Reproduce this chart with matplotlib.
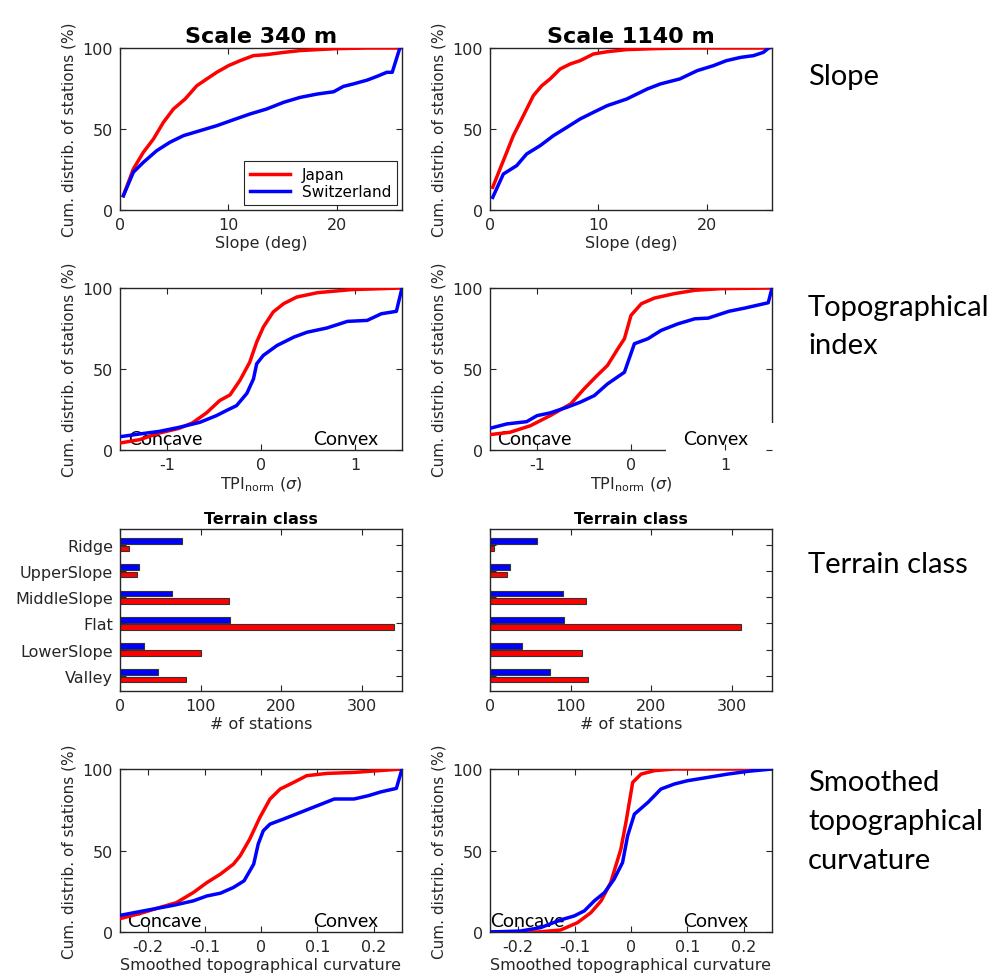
import numpy as np
import matplotlib
matplotlib.use('Agg')
import matplotlib.pyplot as plt
from matplotlib.patches import Rectangle

# slope, scale 340 m
s340_jp_x = [0.31, 1.23, 2.15, 3.08, 4.0, 4.92, 6.0, 7.08, 8.0, 8.92, 10.0, 11.08, 12.3, 13.5, 15.1, 16.6, 18.2, 20.0, 22.8, 25.5, 25.8]
s340_jp_y = [8.8, 25.3, 35.6, 43.8, 54.1, 62.3, 68.5, 76.7, 80.9, 85.0, 89.1, 92.2, 95.3, 95.9, 97.3, 98.4, 99.0, 99.6, 100, 100, 100]
s340_ch_x = [0.31, 1.23, 2.15, 3.38, 4.6, 5.85, 7.4, 8.9, 10.5, 12.0, 13.5, 15.1, 16.6, 18.2, 19.7, 20.6, 21.5, 22.8, 23.7, 24.6, 25.1, 25.8]
s340_ch_y = [8.8, 23.3, 29.4, 36.6, 41.8, 45.9, 49.0, 52.0, 55.8, 59.3, 62.3, 66.5, 69.5, 71.6, 73.0, 76.3, 77.8, 80.2, 82.5, 85.0, 85.0, 100]

# slope, scale 1140 m
s1140_jp_x = [0.25, 0.92, 1.54, 2.15, 2.77, 3.38, 4.0, 4.77, 5.54, 6.46, 7.38, 8.31, 9.54, 10.8, 12.6, 15.1, 18.2, 25.7]
s1140_jp_y = [14.0, 25.3, 35.6, 45.9, 54.1, 62.3, 70.6, 76.7, 80.9, 87.0, 90.1, 92.2, 96.3, 97.7, 99.0, 99.6, 100, 100]
s1140_ch_x = [0.25, 1.23, 2.46, 3.38, 4.62, 5.85, 7.08, 8.31, 9.54, 10.8, 12.6, 14.5, 15.7, 17.5, 19.1, 20.6, 21.8, 23.1, 24.3, 25.2, 25.7]
s1140_ch_y = [7.8, 22.2, 27.4, 34.6, 39.7, 45.9, 51.0, 56.2, 60.3, 64.4, 68.5, 74.7, 77.8, 80.9, 86.0, 89.1, 92.2, 94.2, 95.3, 97.3, 100]

# TPI, scale 340 m
t340_jp_x = [-1.5, -1.29, -1.08, -0.87, -0.73, -0.58, -0.44, -0.33, -0.225, -0.12, -0.046, 0.025, 0.13, 0.24, 0.38, 0.6, 0.96, 1.5]
t340_jp_y = [4.3, 6.4, 10.5, 13.4, 16.7, 22.9, 30.5, 34.0, 42.9, 54.2, 66.6, 75.9, 85.2, 90.3, 94.4, 97.1, 99.0, 100]
t340_ch_x = [-1.5, -1.29, -1.08, -0.87, -0.65, -0.475, -0.37, -0.26, -0.15, -0.08, -0.046, 0.025, 0.17, 0.35, 0.49, 0.7, 0.92, 1.13, 1.28, 1.44, 1.5]
t340_ch_y = [8.2, 9.9, 11.5, 14.0, 17.1, 21.2, 24.3, 27.4, 35.0, 43.9, 53.2, 58.4, 64.5, 69.7, 72.7, 75.3, 79.4, 80.0, 84.1, 85.6, 100]

# TPI, scale 1140 m
t1140_jp_x = [-1.5, -1.29, -1.07, -0.86, -0.64, -0.5, -0.36, -0.25, -0.14, -0.07, 0.0, 0.11, 0.25, 0.46, 0.68, 0.96, 1.5]
t1140_jp_y = [9.5, 10.9, 15.0, 21.2, 28.5, 37.7, 46.0, 52.2, 62.5, 68.7, 83.1, 90.3, 93.8, 96.5, 98.6, 99.6, 100]
t1140_ch_x = [-1.5, -1.32, -1.11, -1.0, -0.86, -0.68, -0.54, -0.39, -0.25, -0.07, 0.036, 0.18, 0.32, 0.5, 0.68, 0.82, 1.04, 1.21, 1.46, 1.5]
t1140_ch_y = [13.4, 16.1, 17.5, 21.2, 22.9, 26.4, 29.5, 33.6, 40.8, 48.0, 65.6, 68.7, 73.8, 77.9, 81.0, 81.4, 85.6, 87.6, 90.9, 100]

# terrain classes (bottom to top)
classes = ['Valley', 'LowerSlope', 'Flat', 'MiddleSlope', 'UpperSlope', 'Ridge']
tc340_ch = [47.6, 29.8, 136.5, 64, 24, 76.5]
tc340_jp = [81.5, 100.5, 340, 135.7, 21.5, 11.6]
tc1140_ch = [75, 40.2, 92, 90.3, 24.9, 58]
tc1140_jp = [121.8, 114.8, 311.6, 119, 20.7, 5]

# smoothed curvature, scale 340 m
c340_jp_x = [-0.25, -0.215, -0.18, -0.15, -0.12, -0.096, -0.072, -0.049, -0.037, -0.02, -0.002, 0.016, 0.034, 0.058, 0.081, 0.117, 0.165, 0.25]
c340_jp_y = [8.2, 11.3, 15.0, 18.0, 24.2, 30.3, 35.5, 41.6, 46.7, 57.0, 70.3, 81.6, 87.7, 91.8, 95.9, 97.3, 97.9, 100]
c340_ch_x = [-0.25, -0.203, -0.155, -0.12, -0.096, -0.072, -0.049, -0.03, -0.013, -0.005, 0.004, 0.016, 0.04, 0.07, 0.1, 0.13, 0.165, 0.19, 0.213, 0.24, 0.25]
c340_ch_y = [10.2, 13.3, 16.4, 19.1, 22.1, 23.8, 27.3, 31.4, 41.6, 53.9, 62.1, 66.2, 69.3, 73.4, 77.5, 81.6, 81.6, 83.6, 86.0, 88.1, 100]

# smoothed curvature, scale 1140 m
c1140_jp_x = [-0.25, -0.166, -0.125, -0.095, -0.071, -0.053, -0.036, -0.018, -0.009, 0.003, 0.018, 0.042, 0.077, 0.25]
c1140_jp_y = [0, 0, 1.2, 5.7, 11.9, 19.1, 30.3, 50.8, 67.2, 91.8, 96.9, 99.0, 100, 100]
c1140_ch_x = [-0.25, -0.196, -0.16, -0.125, -0.101, -0.083, -0.065, -0.047, -0.03, -0.015, -0.006, 0.006, 0.03, 0.053, 0.077, 0.1, 0.137, 0.172, 0.208, 0.25]
c1140_ch_y = [0, 0.6, 2.7, 7.4, 9.8, 12.9, 19.1, 24.2, 32.4, 42.6, 59.0, 72.3, 79.5, 87.7, 90.8, 92.8, 94.9, 96.9, 98.6, 100]

red = (1, 0, 0)
blue = (0, 0, 1)
grey = (0.15, 0.15, 0.15)
plt.rcParams['font.family'] = 'DejaVu Sans'
plt.rcParams['font.size'] = 11
plt.rcParams['axes.unicode_minus'] = False

fig = plt.figure(figsize=(9.92, 9.78), dpi=100)
W, H = 992, 978

def make_ax(x0, y0, x1, y1):
    # pixel box -> figure coords
    return fig.add_axes([x0 / W, 1 - y1 / H, (x1 - x0) / W, (y1 - y0) / H])

def style(ax):
    for s in ax.spines.values():
        s.set_color(grey)
        s.set_linewidth(1.0)
    ax.tick_params(direction='in', length=4, width=0.8, colors=grey, labelcolor=grey,
                   top=True, right=True, labelsize=11.5, pad=5)

cols = [(120, 402), (490, 772)]
rows = [(49, 211), (289, 451), (530, 692), (770, 933)]
ylab = 'Cum. distrib. of stations (%)'

def cdf_panel(ax, jx, jy, cx, cy, xlim, xticks, xlabel, cc_x=None):
    ax.plot(jx, jy, color=red, lw=2.5, label='Japan', zorder=3)
    ax.plot(cx, cy, color=blue, lw=2.5, label='Switzerland', zorder=3)
    ax.set_xlim(xlim)
    ax.set_ylim(0, 100)
    ax.set_xticks(xticks)
    ax.set_yticks([0, 50, 100])
    ax.set_xlabel(xlabel, color=grey, fontsize=11.5, labelpad=2)
    ax.set_ylabel(ylab, color=grey, fontsize=11, labelpad=4)
    style(ax)
    if cc_x is not None:
        ax.text(cc_x, 0.035, 'Concave', transform=ax.transAxes, fontsize=14,
                family='Lato', color='black', zorder=2)
        ax.text(0.915, 0.035, 'Convex', transform=ax.transAxes, fontsize=14,
                family='Lato', color='black', ha='right', zorder=2)

# row 1: slope
ax = make_ax(cols[0][0], rows[0][0], cols[0][1], rows[0][1])
cdf_panel(ax, s340_jp_x, s340_jp_y, s340_ch_x, s340_ch_y, (0, 26), [0, 10, 20], 'Slope (deg)')
ax.set_title('Scale 340 m', fontsize=16, fontweight='bold', pad=4)
leg = ax.legend(loc='lower right', fontsize=11, fancybox=False, framealpha=1,
                edgecolor=grey, handlelength=2.6, borderaxespad=0.3, labelspacing=0.15)
leg.get_frame().set_linewidth(0.8)

ax = make_ax(cols[1][0], rows[0][0], cols[1][1], rows[0][1])
cdf_panel(ax, s1140_jp_x, s1140_jp_y, s1140_ch_x, s1140_ch_y, (0, 26), [0, 10, 20], 'Slope (deg)')
ax.set_title('Scale 1140 m', fontsize=16, fontweight='bold', pad=4)

# row 2: TPI
tpi_lab = r'TPI$_{\mathrm{norm}}$ ($\sigma$)'
ax = make_ax(cols[0][0], rows[1][0], cols[0][1], rows[1][1])
cdf_panel(ax, t340_jp_x, t340_jp_y, t340_ch_x, t340_ch_y, (-1.5, 1.5), [-1, 0, 1], tpi_lab, 0.03)

ax = make_ax(cols[1][0], rows[1][0], cols[1][1], rows[1][1])
cdf_panel(ax, t1140_jp_x, t1140_jp_y, t1140_ch_x, t1140_ch_y, (-1.5, 1.5), [-1, 0, 1], tpi_lab, 0.025)
# white text box overlapping the frame corner
ax.add_patch(Rectangle((0.623, -0.02), 0.4, 0.187, transform=ax.transAxes,
                       facecolor='white', edgecolor='none', clip_on=False, zorder=1.5))
for s in ax.spines.values():
    s.set_zorder(1)

# row 3: terrain class
ypos = np.arange(1, len(classes) + 1)
bh = 0.22
for i, (ch, jp) in enumerate([(tc340_ch, tc340_jp), (tc1140_ch, tc1140_jp)]):
    ax = make_ax(cols[i][0], rows[2][0], cols[i][1], rows[2][1])
    ax.barh(ypos + 0.14, ch, height=bh, color=blue, edgecolor=(0.2, 0.2, 0.2), linewidth=0.8)
    ax.barh(ypos - 0.14, jp, height=bh, color=red, edgecolor=(0.2, 0.2, 0.2), linewidth=0.8)
    ax.set_xlim(0, 350)
    ax.set_ylim(0.42, 6.6)
    ax.set_xticks([0, 100, 200, 300])
    ax.set_yticks(ypos)
    if i == 0:
        ax.set_yticklabels(classes)
    else:
        ax.set_yticklabels([])
    ax.set_xlabel('# of stations', color=grey, fontsize=11.5, labelpad=2)
    ax.set_title('Terrain class', fontsize=11.5, fontweight='bold', pad=4)
    style(ax)

# row 4: smoothed curvature
c_ticks = [-0.2, -0.1, 0, 0.1, 0.2]
c_lab = 'Smoothed topographical curvature'
ax = make_ax(cols[0][0], rows[3][0], cols[0][1], rows[3][1])
cdf_panel(ax, c340_jp_x, c340_jp_y, c340_ch_x, c340_ch_y, (-0.25, 0.25), c_ticks, c_lab, 0.025)
ax.set_xticklabels(['-0.2', '-0.1', '0', '0.1', '0.2'])
ax = make_ax(cols[1][0], rows[3][0], cols[1][1], rows[3][1])
cdf_panel(ax, c1140_jp_x, c1140_jp_y, c1140_ch_x, c1140_ch_y, (-0.25, 0.25), c_ticks, c_lab, 0.0)
ax.set_xticklabels(['-0.2', '-0.1', '0', '0.1', '0.2'])

# row labels on the right
row_labels = ['Slope', 'Topographical\nindex', 'Terrain class', 'Smoothed\ntopographical\ncurvature']
row_y = [77, 327, 565, 822]
for lab, yy in zip(row_labels, row_y):
    fig.text(808 / W, 1 - yy / H, lab, fontsize=21, family='Lato', color='black',
             ha='left', va='center', linespacing=1.6)

fig.savefig('out.png', dpi=100)
